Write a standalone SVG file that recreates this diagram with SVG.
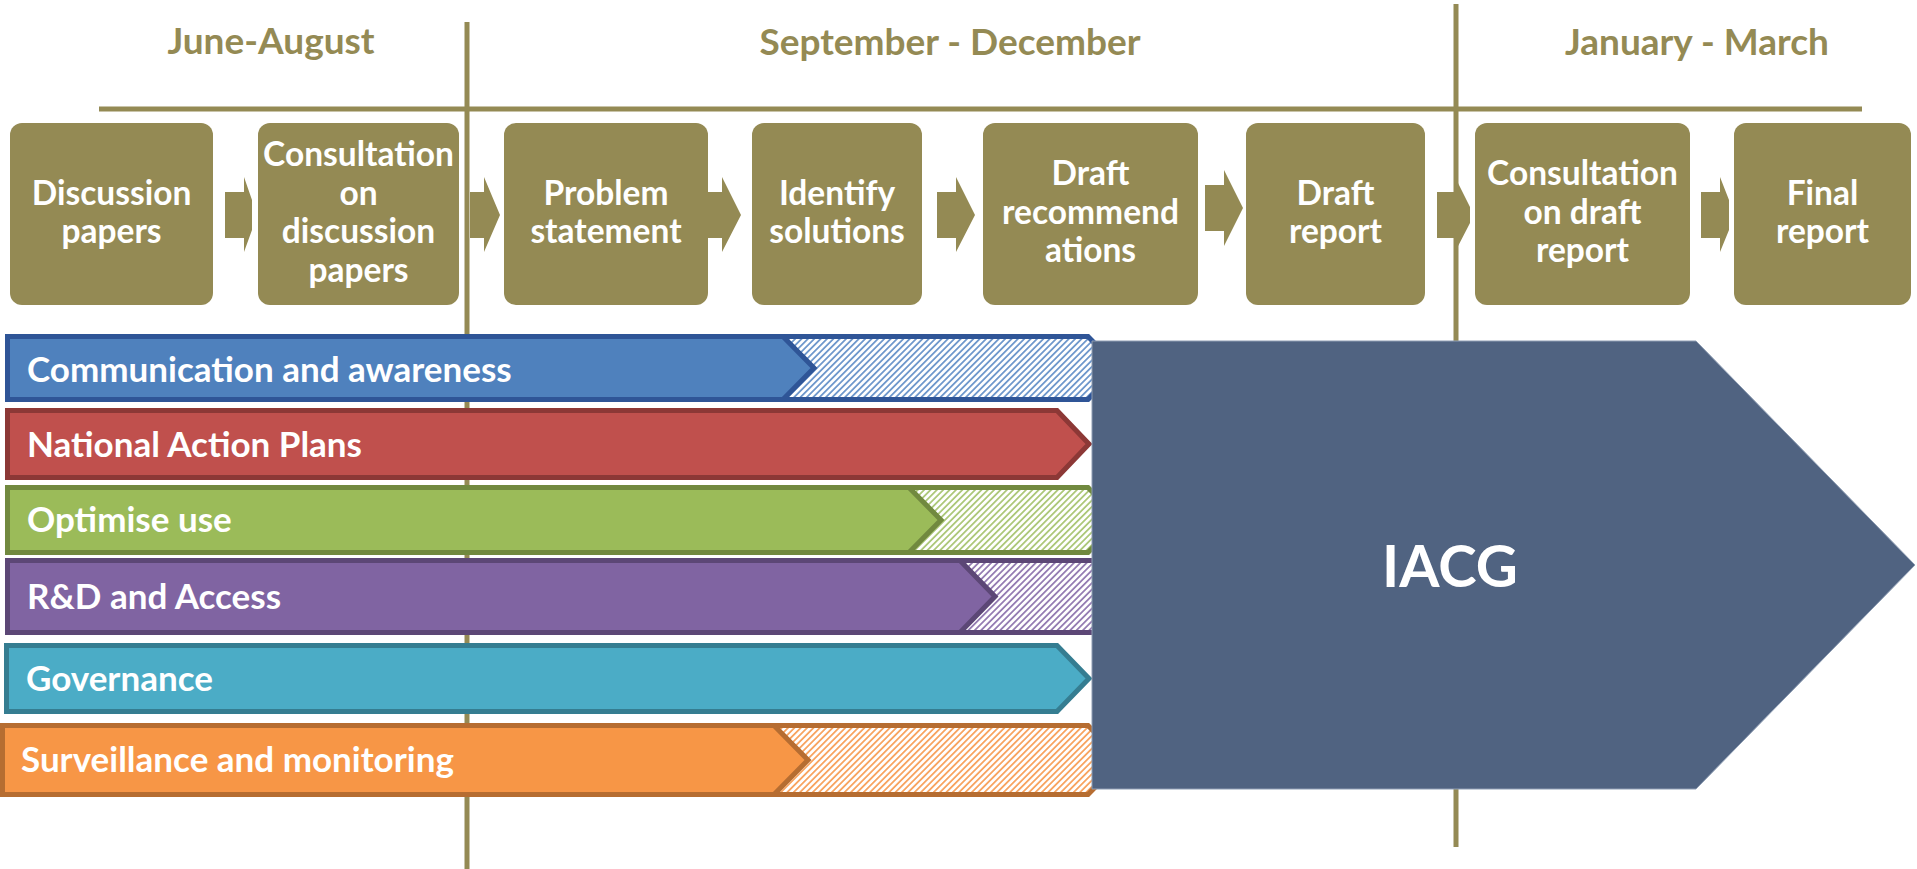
<svg xmlns="http://www.w3.org/2000/svg" width="1917" height="869" viewBox="0 0 1917 869">
<style>
.ln{stroke:#948A54;stroke-width:5;fill:none}
.hd{font-family:Lato,"Liberation Sans",sans-serif;font-weight:700;font-size:37px;fill:#948A54;text-anchor:middle}
.box{fill:#948A54}
.bt{font-family:Lato,"Liberation Sans",sans-serif;font-weight:700;font-size:33.5px;fill:#fff;text-anchor:middle}
.arr{fill:#948A54}
.lab{font-family:Lato,"Liberation Sans",sans-serif;font-weight:700;font-size:35px;fill:#fff}
.bar{stroke-width:5;stroke-linejoin:miter}
</style>
<defs>
<pattern id="hBlue" width="4.5" height="4.5" patternUnits="userSpaceOnUse" patternTransform="rotate(45)"><rect width="4.5" height="4.5" fill="#fff"/><rect width="1.8" height="4.5" fill="#6F98CC"/></pattern>
<pattern id="hGreen" width="4.5" height="4.5" patternUnits="userSpaceOnUse" patternTransform="rotate(45)"><rect width="4.5" height="4.5" fill="#fff"/><rect width="1.8" height="4.5" fill="#ADC87A"/></pattern>
<pattern id="hPurple" width="4.5" height="4.5" patternUnits="userSpaceOnUse" patternTransform="rotate(45)"><rect width="4.5" height="4.5" fill="#fff"/><rect width="1.8" height="4.5" fill="#957DB3"/></pattern>
<pattern id="hOrange" width="4.5" height="4.5" patternUnits="userSpaceOnUse" patternTransform="rotate(45)"><rect width="4.5" height="4.5" fill="#fff"/><rect width="1.8" height="4.5" fill="#F8A460"/></pattern>
</defs>
<rect width="1917" height="869" fill="#fff"/>

<g id="timeline-lines">
<line class="ln" x1="99" y1="109" x2="1862" y2="109"/>
<line class="ln" x1="467" y1="22" x2="467" y2="869"/>
<line class="ln" x1="1456" y1="4" x2="1456" y2="847"/>
</g>

<g id="headings">
<text class="hd" x="271" y="54">June-August</text>
<text class="hd" x="950" y="55">September - December</text>
<text class="hd" x="1697" y="55">January - March</text>
</g>

<g id="connectors">
<polygon class="arr" points="225,192 244,192 244,177 252,200 252,230 244,252 244,238 225,238"/>
<polygon class="arr" points="470,192 484,192 484,177 500,215 484,252 484,238 470,238"/>
<polygon class="arr" points="703,192 722,192 722,177 741,215 722,252 722,238 703,238"/>
<polygon class="arr" points="937,192 956,192 956,177 975,215 956,252 956,238 937,238"/>
<polygon class="arr" points="1205,185 1224,185 1224,170 1243,208 1224,246 1224,231 1205,231"/>
<polygon class="arr" points="1437,192 1455,192 1455,177 1470,207 1470,223 1455,252 1455,238 1437,238"/>
<polygon class="arr" points="1701,192 1720,192 1720,177 1729,200 1729,230 1720,252 1720,238 1701,238"/>
</g>

<g id="box-discussion-papers">
<rect class="box" x="10" y="123" width="203" height="182" rx="12"/>
<text class="bt" x="111.5" y="204.5">Discussion</text>
<text class="bt" x="111.5" y="243">papers</text>
</g>
<g id="box-consultation-discussion">
<rect class="box" x="258" y="123" width="201" height="182" rx="12"/>
<text class="bt" x="358.5" y="166">Consultation</text>
<text class="bt" x="358.5" y="204.5">on</text>
<text class="bt" x="358.5" y="243">discussion</text>
<text class="bt" x="358.5" y="281.5">papers</text>
</g>
<g id="box-problem-statement">
<rect class="box" x="504" y="123" width="204" height="182" rx="12"/>
<text class="bt" x="606" y="204.5">Problem</text>
<text class="bt" x="606" y="243">statement</text>
</g>
<g id="box-identify-solutions">
<rect class="box" x="752" y="123" width="170" height="182" rx="12"/>
<text class="bt" x="837" y="204.5">Identify</text>
<text class="bt" x="837" y="243">solutions</text>
</g>
<g id="box-draft-recommendations">
<rect class="box" x="983" y="123" width="215" height="182" rx="12"/>
<text class="bt" x="1090.5" y="185">Draft</text>
<text class="bt" x="1090.5" y="223.5">recommend</text>
<text class="bt" x="1090.5" y="262">ations</text>
</g>
<g id="box-draft-report">
<rect class="box" x="1246" y="123" width="179" height="182" rx="12"/>
<text class="bt" x="1335.5" y="204.5">Draft</text>
<text class="bt" x="1335.5" y="243">report</text>
</g>
<g id="box-consultation-draft">
<rect class="box" x="1475" y="123" width="215" height="182" rx="12"/>
<text class="bt" x="1582.5" y="185">Consultation</text>
<text class="bt" x="1582.5" y="223.5">on draft</text>
<text class="bt" x="1582.5" y="262">report</text>
</g>
<g id="box-final-report">
<rect class="box" x="1734" y="123" width="177" height="182" rx="12"/>
<text class="bt" x="1822.5" y="204.5">Final</text>
<text class="bt" x="1822.5" y="243">report</text>
</g>

<g id="bar-communication">
<path class="bar" fill="url(#hBlue)" stroke="#2F5597" d="M7.5,336.5 H1088 L1119,368 L1088,399.5 H7.5 Z"/>
<path class="bar" fill="#4F81BD" stroke="#2F5597" d="M7.5,336.5 H783 L814,368 L783,399.5 H7.5 Z"/>
<text class="lab" x="27" y="382">Communication and awareness</text>
</g>
<g id="bar-national-action-plans">
<path class="bar" fill="#C0504D" stroke="#8C3836" d="M7.5,410.5 H1057 L1089,444 L1057,477.5 H7.5 Z"/>
<text class="lab" x="27" y="457">National Action Plans</text>
</g>
<g id="bar-optimise-use">
<path class="bar" fill="url(#hGreen)" stroke="#71893F" d="M7.5,487.5 H1088 L1120,520 L1088,552.5 H7.5 Z"/>
<path class="bar" fill="#9BBB59" stroke="#71893F" d="M7.5,487.5 H909 L941,520 L909,552.5 H7.5 Z"/>
<text class="lab" x="27" y="532">Optimise use</text>
</g>
<g id="bar-rd-access">
<path class="bar" fill="url(#hPurple)" stroke="#5C4776" d="M7.5,560.5 H1100 L1136,596.5 L1100,632.5 H7.5 Z"/>
<path class="bar" fill="#8064A2" stroke="#5C4776" d="M7.5,560.5 H960 L995,596.5 L960,632.5 H7.5 Z"/>
<text class="lab" x="27" y="609">R&amp;D and Access</text>
</g>
<g id="bar-governance">
<path class="bar" fill="#4BACC6" stroke="#357D91" d="M6.5,645.5 H1057 L1089,678.5 L1057,711.5 H6.5 Z"/>
<text class="lab" x="26" y="691">Governance</text>
</g>
<g id="bar-surveillance">
<path class="bar" fill="url(#hOrange)" stroke="#B66D31" d="M2.5,725.5 H1088 L1122,760 L1088,794.5 H2.5 Z"/>
<path class="bar" fill="#F79646" stroke="#B66D31" d="M2.5,725.5 H774 L808,760 L774,794.5 H2.5 Z"/>
<text class="lab" x="21" y="772">Surveillance and monitoring</text>
</g>

<g id="iacg">
<polygon points="1092,341 1696,341 1915,565 1696,789 1092,789" fill="#506381" stroke="#8E9DB3" stroke-width="1"/>
<text x="1450" y="587" font-family="Lato,'Liberation Sans',sans-serif" font-weight="700" font-size="58" fill="#fff" text-anchor="middle">IACG</text>
</g>
</svg>
